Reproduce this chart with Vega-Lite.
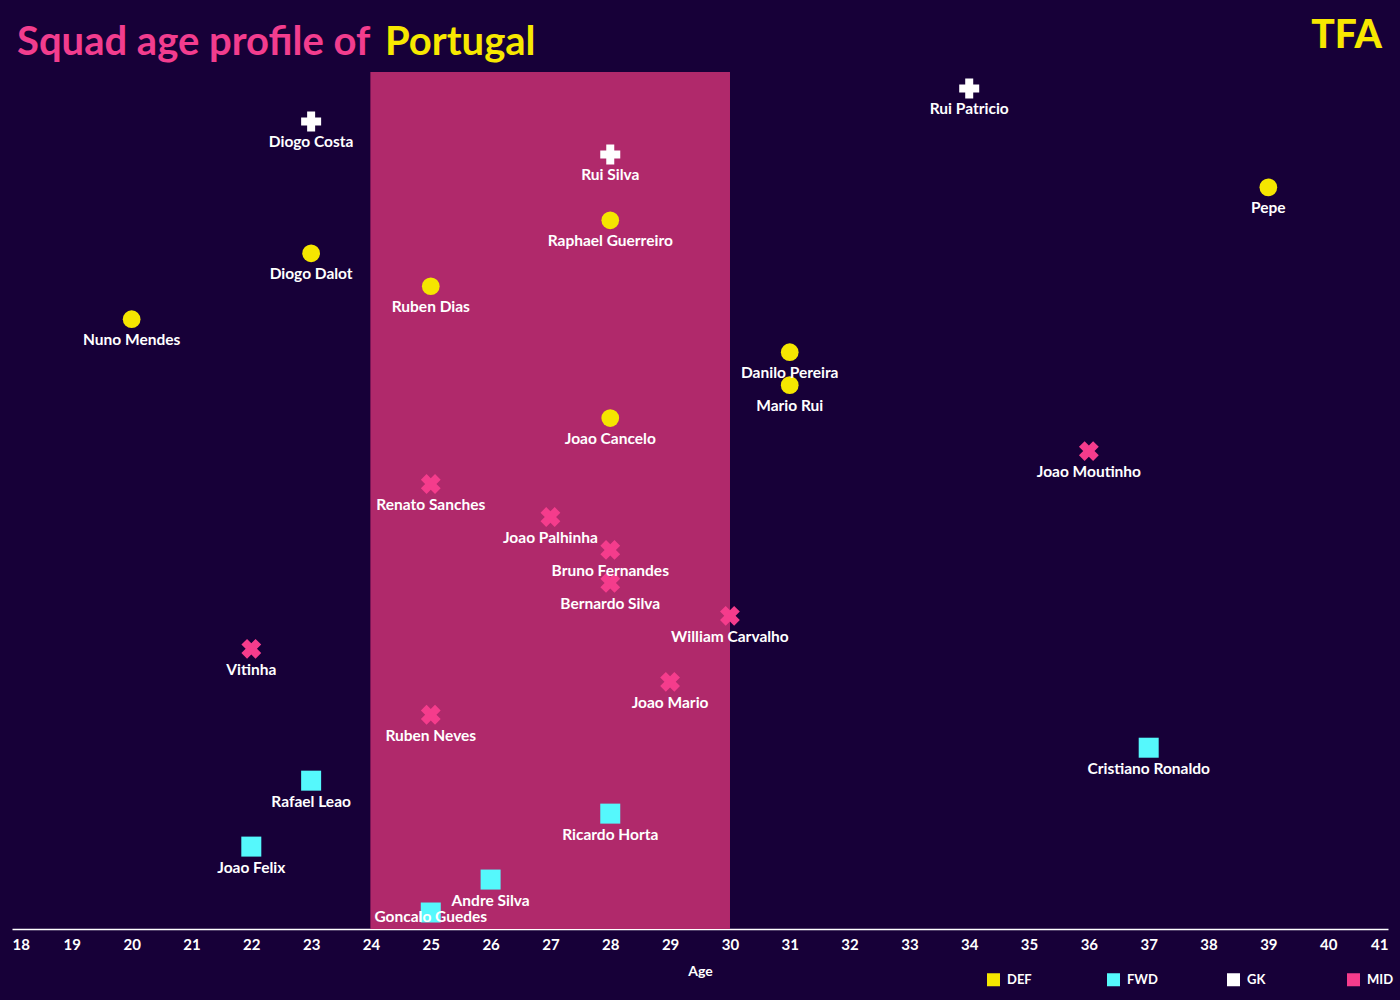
{
  "$schema": "https://vega.github.io/schema/vega-lite/v6.json",
  "width": 1376,
  "height": 857,
  "autosize": {"type": "none"},
  "padding": {"left": 12, "top": 72, "right": 12, "bottom": 71},
  "background": "#170038",
  "title": {
    "text": "Squad age profile of",
    "subtitle": "Portugal",
    "anchor": "start",
    "frame": "group",
    "dx": 5,
    "dy": 61,
    "font": "Lato",
    "fontSize": 40,
    "fontWeight": "bold",
    "color": "#f23d8e",
    "subtitleFont": "Lato",
    "subtitleFontSize": 40,
    "subtitleFontWeight": "bold",
    "subtitleColor": "#f7e800",
    "subtitlePadding": -40,
    "offset": 14,
    "encode": {
      "subtitle": {
        "update": {"dx": {"value": 373}}
      }
    }
  },
  "config": {
    "view": {"stroke": null},
    "axis": {"grid": false}
  },
  "datasets": {
    "squad": [
      {"rank": 1, "name": "Rui Patricio", "age": 34, "pos": "GK"},
      {"rank": 2, "name": "Diogo Costa", "age": 23, "pos": "GK"},
      {"rank": 3, "name": "Rui Silva", "age": 28, "pos": "GK"},
      {"rank": 4, "name": "Pepe", "age": 39, "pos": "DEF"},
      {"rank": 5, "name": "Raphael Guerreiro", "age": 28, "pos": "DEF"},
      {"rank": 6, "name": "Diogo Dalot", "age": 23, "pos": "DEF"},
      {"rank": 7, "name": "Ruben Dias", "age": 25, "pos": "DEF"},
      {"rank": 8, "name": "Nuno Mendes", "age": 20, "pos": "DEF"},
      {"rank": 9, "name": "Danilo Pereira", "age": 31, "pos": "DEF"},
      {"rank": 10, "name": "Mario Rui", "age": 31, "pos": "DEF"},
      {"rank": 11, "name": "Joao Cancelo", "age": 28, "pos": "DEF"},
      {"rank": 12, "name": "Joao Moutinho", "age": 36, "pos": "MID"},
      {"rank": 13, "name": "Renato Sanches", "age": 25, "pos": "MID"},
      {"rank": 14, "name": "Joao Palhinha", "age": 27, "pos": "MID"},
      {"rank": 15, "name": "Bruno Fernandes", "age": 28, "pos": "MID"},
      {"rank": 16, "name": "Bernardo Silva", "age": 28, "pos": "MID"},
      {"rank": 17, "name": "William Carvalho", "age": 30, "pos": "MID"},
      {"rank": 18, "name": "Vitinha", "age": 22, "pos": "MID"},
      {"rank": 19, "name": "Joao Mario", "age": 29, "pos": "MID"},
      {"rank": 20, "name": "Ruben Neves", "age": 25, "pos": "MID"},
      {"rank": 21, "name": "Cristiano Ronaldo", "age": 37, "pos": "FWD"},
      {"rank": 22, "name": "Rafael Leao", "age": 23, "pos": "FWD"},
      {"rank": 23, "name": "Ricardo Horta", "age": 28, "pos": "FWD"},
      {"rank": 24, "name": "Joao Felix", "age": 22, "pos": "FWD"},
      {"rank": 25, "name": "Andre Silva", "age": 26, "pos": "FWD"},
      {"rank": 26, "name": "Goncalo Guedes", "age": 25, "pos": "FWD"}
    ]
  },
  "data": {"name": "squad"},
  "layer": [
    {
      "mark": {"type": "rect", "color": "#b0296b"},
      "encoding": {
        "x": {"datum": 24, "type": "quantitative"},
        "x2": {"datum": 30}
      }
    },
    {
      "mark": {"type": "point", "filled": true, "opacity": 1},
      "encoding": {
        "x": {
          "field": "age",
          "type": "quantitative",
          "scale": {"domain": [18, 41], "nice": false, "zero": false},
          "axis": {
            "values": [18,19,20,21,22,23,24,25,26,27,28,29,30,31,32,33,34,35,36,37,38,39,40,41],
            "format": "d",
            "title": "Age",
            "domainColor": "#ffffff",
            "domainWidth": 1.5,
            "ticks": false,
            "labelFont": "Lato",
            "labelFontWeight": "bold",
            "labelFontSize": 15,
            "labelColor": "#ffffff",
            "labelPadding": 8,
            "labelFlush": true,
            "titleFont": "Lato",
            "titleFontWeight": "bold",
            "titleFontSize": 14,
            "titleColor": "#ffffff",
            "titlePadding": 12
          }
        },
        "y": {
          "field": "rank",
          "type": "quantitative",
          "scale": {"domain": [0.5, 26.5], "reverse": true, "nice": false, "zero": false},
          "axis": {
            "orient": "right",
            "domain": false,
            "ticks": false,
            "labels": false,
            "title": "TFA",
            "titleAngle": 0,
            "titleX": -42,
            "titleY": -37,
            "titleAlign": "center",
            "titleBaseline": "middle",
            "titleFont": "Lato",
            "titleFontWeight": 900,
            "titleFontSize": 39,
            "titleColor": "#f7e800"
          }
        },
        "color": {
          "field": "pos",
          "type": "nominal",
          "scale": {"domain": ["DEF", "FWD", "GK", "MID"], "range": ["#f5e600", "#55f8fc", "#ffffff", "#f53c8c"]},
          "legend": {
            "title": null,
            "orient": "none",
            "legendX": 974,
            "legendY": 900,
            "direction": "horizontal",
            "columns": 4,
            "gridAlign": "all",
            "columnPadding": 68,
            "symbolType": "square",
            "symbolSize": 169,
            "symbolOpacity": 1,
            "labelFont": "Lato",
            "labelFontWeight": "bold",
            "labelFontSize": 13,
            "labelColor": "#ffffff",
            "labelOffset": 6
          }
        },
        "shape": {
          "condition": [
            {"test": "datum.pos === 'DEF'", "value": "circle"},
            {"test": "datum.pos === 'FWD'", "value": "square"}
          ],
          "value": "cross"
        },
        "angle": {
          "condition": {"test": "datum.pos === 'MID'", "value": 45},
          "value": 0
        },
        "size": {
          "condition": {"test": "datum.pos === 'DEF'", "value": 314},
          "value": 400
        }
      }
    },
    {
      "transform": [{"filter": "datum.rank !== 26"}],
      "mark": {"type": "text", "dy": 21, "color": "#ffffff", "font": "Lato", "fontWeight": "bold", "fontSize": 15.5, "baseline": "middle"},
      "encoding": {
        "x": {"field": "age", "type": "quantitative"},
        "y": {"field": "rank", "type": "quantitative"},
        "text": {"field": "name"}
      }
    },
    {
      "transform": [{"filter": "datum.rank === 26"}],
      "mark": {"type": "text", "dy": 4, "color": "#ffffff", "font": "Lato", "fontWeight": "bold", "fontSize": 15.5, "baseline": "middle"},
      "encoding": {
        "x": {"field": "age", "type": "quantitative"},
        "y": {"field": "rank", "type": "quantitative"},
        "text": {"field": "name"}
      }
    }
  ]
}
